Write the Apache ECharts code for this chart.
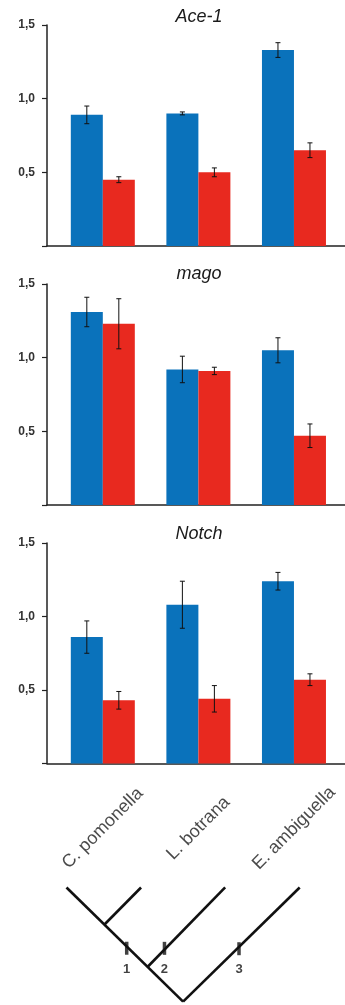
<!DOCTYPE html>
<html>
<head>
<meta charset="utf-8">
<script src="https://cdn.jsdelivr.net/npm/echarts@6/dist/echarts.min.js"></script>
<style>
  html, body { margin: 0; padding: 0; background: #fff; }
  #chart { width: 345px; height: 1005px; }
</style>
</head>
<body>
<div id="chart"></div>
<script>
// ---------- data ----------
const categories = ['C. pomonella', 'L. botrana', 'E. ambiguella'];
const panelTitles = ['Ace-1', 'mago', 'Notch'];
const yTickValues = [0, 0.5, 1.0, 1.5];

const ace1Blue = [0.89, 0.90, 1.33];
const ace1BlueErr = [0.06, 0.01, 0.05];
const ace1Red = [0.45, 0.50, 0.65];
const ace1RedErr = [0.02, 0.03, 0.05];

const magoBlue = [1.31, 0.92, 1.05];
const magoBlueErr = [0.10, 0.09, 0.085];
const magoRed = [1.23, 0.91, 0.47];
const magoRedErr = [0.17, 0.025, 0.08];

const notchBlue = [0.86, 1.08, 1.24];
const notchBlueErr = [0.11, 0.16, 0.06];
const notchRed = [0.43, 0.44, 0.57];
const notchRedErr = [0.06, 0.09, 0.04];

// cladogram (x in category units, y = depth below label row)
const treeSegments = [
  [[-0.38, 1.02], [0.84, 2.215]],
  [[0.40, 1.02], [0.02, 1.405]],
  [[1.28, 1.02], [0.47, 1.85]],
  [[2.06, 1.02], [0.84, 2.215]]
];
const treeMarks = [
  { name: '1', value: [0.25, 1.656] },
  { name: '2', value: [0.645, 1.657] },
  { name: '3', value: [1.425, 1.661] }
];
const labelRowDepth = 0.40;

// ---------- layout / style ----------
const FONT = 'Liberation Sans, Arial, Helvetica, sans-serif';
const BLUE = '#0a72bb';
const RED = '#e8291f';
const AXIS = '#222';
const XMIN = -0.584, XMAX = 2.534;
const panelGrids = [
  { top: 25, height: 221 },
  { top: 284, height: 221 },
  { top: 543, height: 220.5 }
];
const titleTops = [8, 265, 525];

const panels = [
  { blue: ace1Blue, blueErr: ace1BlueErr, red: ace1Red, redErr: ace1RedErr },
  { blue: magoBlue, blueErr: magoBlueErr, red: magoRed, redErr: magoRedErr },
  { blue: notchBlue, blueErr: notchBlueErr, red: notchRed, redErr: notchRedErr }
];

function errRender(offsetPx) {
  return function (params, api) {
    const x = api.value(0), v = api.value(1), e = api.value(2);
    const t = api.coord([x, v + e]);
    const b = api.coord([x, v - e]);
    const cx = t[0] + offsetPx;
    const cap = 2.5;
    const st = { stroke: '#111', lineWidth: 1 };
    return {
      type: 'group',
      children: [
        { type: 'line', shape: { x1: cx, y1: t[1], x2: cx, y2: b[1] }, style: st },
        { type: 'line', shape: { x1: cx - cap, y1: t[1], x2: cx + cap, y2: t[1] }, style: st },
        { type: 'line', shape: { x1: cx - cap, y1: b[1], x2: cx + cap, y2: b[1] }, style: st }
      ]
    };
  };
}

const grid = [], xAxis = [], yAxis = [], series = [], title = [];

panels.forEach((p, i) => {
  grid.push({ left: 47, right: 0, top: panelGrids[i].top, height: panelGrids[i].height });
  xAxis.push({
    type: 'value', gridIndex: i, min: XMIN, max: XMAX,
    axisLine: { show: true, onZero: false, lineStyle: { color: AXIS, width: 1.5 } },
    axisTick: { show: false }, axisLabel: { show: false }, splitLine: { show: false }
  });
  yAxis.push({
    type: 'value', gridIndex: i, min: yTickValues[0], max: yTickValues[yTickValues.length - 1],
    interval: yTickValues[1] - yTickValues[0],
    axisLine: { show: true, onZero: false, lineStyle: { color: AXIS, width: 1.5 } },
    axisTick: { show: true, length: 5, lineStyle: { color: AXIS, width: 1.2 } },
    splitLine: { show: false },
    axisLabel: {
      margin: 12, fontSize: 12, fontWeight: 'bold', color: '#333', fontFamily: FONT,
      formatter: v => (v === 0 ? '' : v.toFixed(1).replace('.', ','))
    }
  });
  title.push({
    text: panelTitles[i], left: 199, top: titleTops[i], textAlign: 'center', padding: 0,
    textStyle: { fontSize: 18, fontStyle: 'italic', fontWeight: 'normal', color: '#1a1a1a', fontFamily: FONT }
  });
  series.push({
    type: 'bar', xAxisIndex: i, yAxisIndex: i, barWidth: 32, barGap: '0%',
    itemStyle: { color: BLUE },
    data: p.blue.map((v, k) => [k, v])
  });
  series.push({
    type: 'bar', xAxisIndex: i, yAxisIndex: i, barWidth: 32, barGap: '0%',
    itemStyle: { color: RED },
    data: p.red.map((v, k) => [k, v])
  });
  series.push({
    type: 'custom', xAxisIndex: i, yAxisIndex: i, z: 5,
    renderItem: errRender(-16), encode: { x: 0, y: 1 },
    data: p.blue.map((v, k) => [k, v, p.blueErr[k]])
  });
  series.push({
    type: 'custom', xAxisIndex: i, yAxisIndex: i, z: 5,
    renderItem: errRender(16), encode: { x: 0, y: 1 },
    data: p.red.map((v, k) => [k, v, p.redErr[k]])
  });
});

// tree / label grid
grid.push({ left: 47, right: 0, top: 790, bottom: 0 });
xAxis.push({ type: 'value', gridIndex: 3, min: XMIN, max: XMAX, show: false });
yAxis.push({ type: 'value', gridIndex: 3, min: 0, max: 2.25, inverse: true, show: false });

series.push({
  type: 'scatter', xAxisIndex: 3, yAxisIndex: 3, symbolSize: 1,
  itemStyle: { color: 'rgba(0,0,0,0)' }, clip: false,
  data: categories.map((c, k) => ({ name: c, value: [k, labelRowDepth] })),
  label: {
    show: true, position: 'inside', formatter: p => p.name, rotate: 45,
    align: 'center', verticalAlign: 'middle',
    fontSize: 18, color: '#1a1a1a', fontFamily: FONT
  }
});
series.push({
  type: 'lines', coordinateSystem: 'cartesian2d', xAxisIndex: 3, yAxisIndex: 3,
  lineStyle: { color: '#111', width: 2.6, opacity: 1 }, clip: false,
  data: treeSegments.map(s => ({ coords: s }))
});
series.push({
  type: 'scatter', xAxisIndex: 3, yAxisIndex: 3, symbol: 'rect', symbolSize: [3.5, 13],
  itemStyle: { color: '#111' }, z: 6,
  data: treeMarks,
  label: {
    show: true, position: 'bottom', distance: 8, formatter: p => p.name,
    fontSize: 13, fontWeight: 'bold', color: '#111', fontFamily: FONT
  }
});

const chart = echarts.init(document.getElementById('chart'), null, { renderer: 'canvas' });
chart.setOption({
  animation: false,
  backgroundColor: '#fff',
  title, grid, xAxis, yAxis, series
});
</script>
</body>
</html>
